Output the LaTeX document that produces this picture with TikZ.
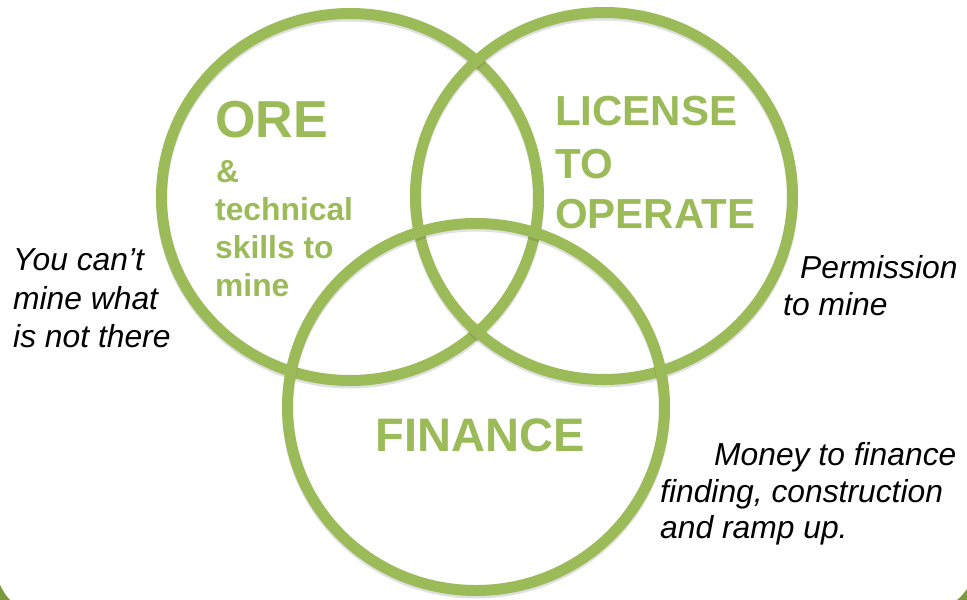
\documentclass[tikz,border=0pt]{standalone}
\usepackage{fontspec}
\setmainfont{Liberation Sans}
\definecolor{olive}{HTML}{9BBB59}
\definecolor{darkolive}{HTML}{7A9A3C}
\tikzset{
  ring/.style={draw=olive, line width=11pt},
  ringshadow/.style={draw=black, line width=11pt, opacity=0.12},
  biglabel/.style={text=olive, font=\bfseries\fontsize{52}{52}\selectfont, inner sep=0pt, anchor=base west},
  midlabel/.style={text=olive, font=\bfseries\fontsize{42}{42}\selectfont, inner sep=0pt, anchor=base west},
  smalllabel/.style={text=olive, font=\bfseries\fontsize{31.8}{31.8}\selectfont, inner sep=0pt, anchor=base west},
  note/.style={text=black, font=\itshape\fontsize{31.8}{31.8}\selectfont, inner sep=0pt, anchor=base west}
}
\begin{document}
\begin{tikzpicture}[x=1pt, y=-1pt]
\useasboundingbox (0,0) rectangle (967,600);
\fill[white] (0,0) rectangle (967,600);
% corner bits of the frame
\fill[darkolive] (0,585) .. controls (3,591) and (6,596) .. (10,600) -- (0,600) -- cycle;
\fill[darkolive] (967,589) -- (967,600) -- (957,600) .. controls (961,597) and (964,593) .. cycle;
% circles
\draw[ringshadow] (350,199.5) ellipse [x radius=188.5pt, y radius=183.5pt];
\draw[ring] (350,197) ellipse [x radius=188.5pt, y radius=183.5pt];
\draw[ringshadow] (604,198.5) ellipse [x radius=188.5pt, y radius=183.5pt];
\draw[ring] (604,196) ellipse [x radius=188.5pt, y radius=183.5pt];
\draw[ringshadow] (476,409.5) ellipse [x radius=188.5pt, y radius=183.5pt];
\draw[ring] (476,407) ellipse [x radius=188.5pt, y radius=183.5pt];
% ORE
\node[biglabel] (ore) at (215,137) {ORE};
\node[smalllabel] (amp) at (216,182) {\&};
\node[smalllabel] (tech) at (215,220) {technical};
\node[smalllabel] (skills) at (215,258) {skills to};
\node[smalllabel] (mine) at (215,296) {mine};
% License
\node[midlabel] (lic) at (555,125) {LICENSE};
\node[midlabel] (to) at (555,178) {TO};
\node[midlabel] (oper) at (555,228) {OPERATE};
% Finance
\node[text=olive, font=\bfseries\fontsize{47}{47}\selectfont, inner sep=0pt, anchor=base] (fin) at (480,451) {FINANCE};
% notes
\node[note] (y1) at (13,270) {You can’t};
\node[note] (y2) at (13,309) {mine what};
\node[note] (y3) at (13,347) {is not there};
\node[note] (p1) at (800,278) {Permission};
\node[note] (p2) at (783,315) {to mine};
\node[note] (m1) at (714,465) {Money to finance};
\node[note] (m2) at (660,502) {finding, construction};
\node[note] (m3) at (660,538) {and ramp up.};
\end{tikzpicture}
\end{document}
